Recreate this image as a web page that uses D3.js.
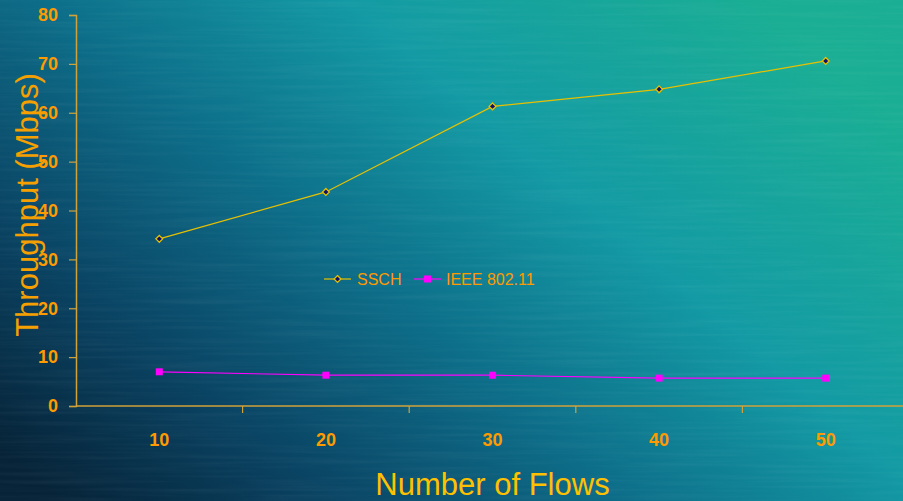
<!DOCTYPE html>
<html>
<head>
<meta charset="utf-8">
<script src="https://cdn.jsdelivr.net/npm/d3@7"></script>
<style>
  html, body { margin: 0; padding: 0; background: #0a3a55; }
  svg { display: block; font-family: "Liberation Sans", Arial, sans-serif; }
</style>
</head>
<body>
<div id="chart"></div>
<script>
// data
const flows = ["10", "20", "30", "40", "50"];
const ssch = [34.2, 43.8, 61.3, 64.8, 70.6];
const ieee = [7.0, 6.3, 6.3, 5.7, 5.7];
const yTicks = [0, 10, 20, 30, 40, 50, 60, 70, 80];

const width = 903, height = 501;
const margin = {top: 15, left: 76, bottom: 95};
const plotBottom = height - margin.bottom; // 406

const svg = d3.select('#chart').append('svg')
    .attr('width', width)
    .attr('height', height);

// background: gradient + horizontal streak texture
let defs = svg.append('defs');
let grad = defs.append('linearGradient')
    .attr('id', 'bg')
    .attr('x1', 0).attr('y1', 0.9).attr('x2', 1).attr('y2', 0.25);
[[0, '#062338'], [0.22, '#0a4565'], [0.45, '#0d6f8a'], [0.68, '#139aa4'], [1, '#1aae94']]
    .forEach(s => grad.append('stop').attr('offset', s[0]).attr('stop-color', s[1]));

let filt = defs.append('filter').attr('id', 'streaks')
    .attr('x', 0).attr('y', 0).attr('width', 1).attr('height', 1);
filt.append('feTurbulence')
    .attr('type', 'fractalNoise')
    .attr('baseFrequency', '0.008 0.25')
    .attr('numOctaves', 2)
    .attr('seed', 3);
filt.append('feColorMatrix')
    .attr('type', 'matrix')
    .attr('values', '0 0 0 0 1  0 0 0 0 1  0 0 0 0 1  0 0 0 -0.9 0.55');

svg.append('rect')
    .attr('width', width).attr('height', height)
    .attr('fill', 'url(#bg)');
svg.append('rect')
    .attr('width', width).attr('height', height)
    .attr('filter', 'url(#streaks)')
    .attr('opacity', 0.09);

// scales
const xScale = d3.scaleBand()
    .domain(flows)
    .range([margin.left, margin.left + 5 * 166.6])
    .padding(0);
const cx = d => xScale(d) + xScale.bandwidth() / 2;

const yScale = d3.scaleLinear()
    .domain([0, 80])
    .range([plotBottom, margin.top]);

const axisColor = '#d2a23a';
const tickColor = '#ff9a00';

// y axis
const yAxis = d3.axisLeft(yScale)
    .tickValues(yTicks)
    .tickSize(7)
    .tickPadding(11)
    .tickFormat(d3.format('d'));
const yG = svg.append('g')
    .attr('transform', `translate(${margin.left}, 0)`)
    .call(yAxis);
yG.select('.domain').attr('stroke', axisColor).attr('stroke-width', 1.5);
yG.selectAll('.tick line').attr('stroke', axisColor).attr('stroke-width', 1.2);
yG.selectAll('.tick text')
    .attr('fill', tickColor)
    .attr('font-size', 18)
    .attr('font-weight', 'bold')
    .attr('font-family', '"Liberation Sans", Arial, sans-serif');

// x axis: line, ticks between categories, labels centred
const xG = svg.append('g').attr('class', 'x-axis');
xG.append('line')
    .attr('x1', margin.left).attr('x2', width)
    .attr('y1', plotBottom).attr('y2', plotBottom)
    .attr('stroke', axisColor).attr('stroke-width', 1.5);
xG.selectAll('line.tick')
    .data(flows.slice(1))
    .join('line')
    .attr('class', 'tick')
    .attr('x1', d => xScale(d)).attr('x2', d => xScale(d))
    .attr('y1', plotBottom).attr('y2', plotBottom + 7)
    .attr('stroke', axisColor).attr('stroke-width', 1.2);
xG.selectAll('text')
    .data(flows)
    .join('text')
    .attr('x', d => cx(d))
    .attr('y', plotBottom + 40)
    .attr('text-anchor', 'middle')
    .attr('fill', tickColor)
    .attr('font-size', 18)
    .attr('font-weight', 'bold')
    .text(d => d);

// axis titles
svg.append('text')
    .attr('transform', `translate(38, 205) rotate(-90)`)
    .attr('text-anchor', 'middle')
    .attr('fill', '#f5a000')
    .attr('font-size', 31)
    .text('Throughput (Mbps)');
svg.append('text')
    .attr('x', cx('30'))
    .attr('y', 495)
    .attr('text-anchor', 'middle')
    .attr('fill', '#ffc000')
    .attr('font-size', 31)
    .text('Number of Flows');

// series
const line = d3.line()
    .x((d, i) => cx(flows[i]))
    .y(d => yScale(d));

const sschColor = '#e8c000';
const ieeeColor = '#ff00ff';

svg.append('path')
    .datum(ieee)
    .attr('d', line)
    .attr('fill', 'none')
    .attr('stroke', ieeeColor)
    .attr('stroke-width', 1.2);
svg.selectAll('rect.ieee')
    .data(ieee)
    .join('rect')
    .attr('class', 'ieee')
    .attr('x', (d, i) => cx(flows[i]) - 3.5)
    .attr('y', d => yScale(d) - 3.5)
    .attr('width', 7).attr('height', 7)
    .attr('fill', ieeeColor);

svg.append('path')
    .datum(ssch)
    .attr('d', line)
    .attr('fill', 'none')
    .attr('stroke', sschColor)
    .attr('stroke-width', 1.2);
const diamond = d3.symbol().type(d3.symbolDiamond2).size(30);
svg.selectAll('path.ssch')
    .data(ssch)
    .join('path')
    .attr('class', 'ssch')
    .attr('d', diamond)
    .attr('transform', (d, i) => `translate(${cx(flows[i])}, ${yScale(d)})`)
    .attr('fill', '#10106a')
    .attr('stroke', sschColor)
    .attr('stroke-width', 1.3);

// legend
const legend = svg.append('g').attr('transform', 'translate(324, 279)');
legend.append('line')
    .attr('x1', 0).attr('x2', 27)
    .attr('stroke', sschColor).attr('stroke-width', 1.2);
legend.append('path')
    .attr('d', diamond)
    .attr('transform', 'translate(13.5, 0)')
    .attr('fill', '#10106a')
    .attr('stroke', sschColor)
    .attr('stroke-width', 1.3);
legend.append('text')
    .attr('x', 33).attr('y', 6)
    .attr('fill', tickColor)
    .attr('font-size', 16)
    .text('SSCH');
legend.append('line')
    .attr('x1', 90).attr('x2', 117)
    .attr('stroke', ieeeColor).attr('stroke-width', 1.2);
legend.append('rect')
    .attr('x', 100).attr('y', -3.5)
    .attr('width', 7).attr('height', 7)
    .attr('fill', ieeeColor);
legend.append('text')
    .attr('x', 122).attr('y', 6)
    .attr('fill', tickColor)
    .attr('font-size', 16)
    .text('IEEE 802.11');
</script>
</body>
</html>
